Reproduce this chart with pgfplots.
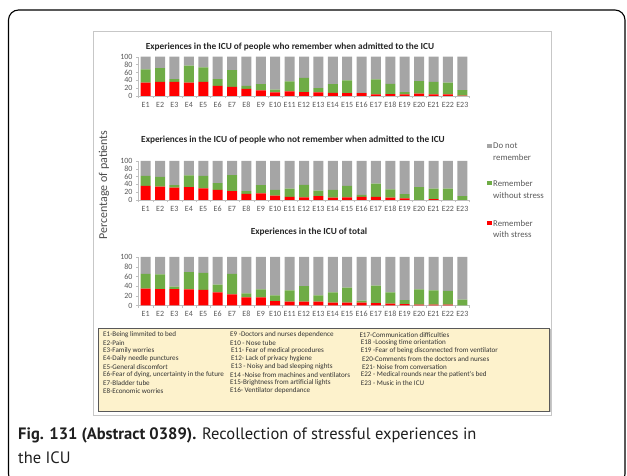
\documentclass[border=0pt]{standalone}
\usepackage{pgfplots}
\pgfplotsset{compat=1.18}
\usepackage{pgfplotstable}
\usepackage{fontspec}
\setmainfont{Carlito}
\newfontfamily\capfont{PT Sans}
\definecolor{cred}{HTML}{FF0000}
\definecolor{cgreen}{HTML}{6FAC46}
\definecolor{cgray}{HTML}{A5A5A5}
\definecolor{txtgray}{HTML}{595959}
\definecolor{axgray}{HTML}{BFBFBF}
\definecolor{boxfill}{HTML}{FDF2CC}
\definecolor{titlecol}{HTML}{262626}

\pgfplotstableread{
x red green gray
1 34 34 32
2 36 35 29
3 36 7 57
4 34 43 23
5 36 37 27
6 26 17 57
7 23 43 34
8 18 8 74
9 14 16 70
10 9 7 84
11 12 25 63
12 10 36 54
13 9 11 80
14 8 22 70
15 7 33 60
16 7 1 92
17 4 38 58
18 5 26 69
19 4 6 90
20 6 32 62
21 4 32 64
22 4 30 66
23 1 14 85
}\remtable

\pgfplotstableread{
x red green gray
1 36 26 38
2 34 25 41
3 32 6 62
4 33 30 37
5 30 32 38
6 26 17 57
7 23 41 36
8 16 7 77
9 17 21 62
10 11 15 74
11 8 21 71
12 7 32 61
13 10 14 76
14 6 20 74
15 7 29 64
16 8 5 87
17 8 34 58
18 6 21 73
19 4 11 85
20 0 33 67
21 2 27 71
22 0 29 71
23 0 10 90
}\notremtable

\pgfplotstableread{
x red green gray
1 35 30 35
2 34 30 36
3 34 5 61
4 33 36 31
5 32 35 33
6 27 16 57
7 23 42 35
8 17 8 75
9 17 16 67
10 9 12 79
11 8 23 69
12 8 32 60
13 8 13 79
14 6 21 73
15 6 31 63
16 6 4 90
17 5 36 59
18 4 23 73
19 3 8 89
20 2 31 67
21 2 29 69
22 2 28 70
23 0 12 88
}\totaltable

\pgfplotsset{panel/.style={
  scale only axis, width=331pt,
  xmin=0.5, xmax=23.5, ymin=0, ymax=100,
  ybar stacked, bar width=10pt,
  axis x line*=bottom, axis y line*=left,
  axis line style={axgray, line width=0.5pt},
  xtick={1,...,23},
  xticklabels={E1,E2,E3,E4,E5,E6,E7,E8,E9,E10,E11,E12,E13,E14,E15,E16,E17,E18,E19,E20,E21,E22,E23},
  major x tick style={draw=none},
  minor xtick={0.5,1.5,...,23.5},
  minor x tick style={axgray},
  minor tick length=2.5pt,
  ytick={0,20,...,100},
  y tick style={axgray},
  major tick length=2.5pt,
  tick align=outside,
  tick label style={font=\fontsize{8}{9}\selectfont, text=txtgray},
  /pgf/number format/assume math mode=true,
  clip=false,
}}

\begin{document}
\begin{tikzpicture}[x=1pt,y=1pt]
\clip (0,0) rectangle (627,476);
\path[use as bounding box] (0,0) rectangle (627,476);
% outer rounded frame
\draw[line width=1.1pt, rounded corners=10pt] (8.5,466) rectangle (625,-8);
% inner chart frame
\draw[black!22, line width=0.6pt] (93,445) rectangle (551,61);

% panel 1
\begin{axis}[panel, at={(138.5pt,380pt)}, anchor=south west, height=39.3pt]
\addplot[fill=cred, draw=none] table[x=x,y=red]{\remtable};
\addplot[fill=cgreen, draw=none] table[x=x,y=green]{\remtable};
\addplot[fill=cgray, draw=none] table[x=x,y=gray]{\remtable};
\end{axis}
% panel 2
\begin{axis}[panel, at={(138.5pt,276pt)}, anchor=south west, height=39pt]
\addplot[fill=cred, draw=none] table[x=x,y=red]{\notremtable};
\addplot[fill=cgreen, draw=none] table[x=x,y=green]{\notremtable};
\addplot[fill=cgray, draw=none] table[x=x,y=gray]{\notremtable};
\end{axis}
% panel 3
\begin{axis}[panel, at={(138.5pt,170.5pt)}, anchor=south west, height=48.5pt]
\addplot[fill=cred, draw=none] table[x=x,y=red]{\totaltable};
\addplot[fill=cgreen, draw=none] table[x=x,y=green]{\totaltable};
\addplot[fill=cgray, draw=none] table[x=x,y=gray]{\totaltable};
\end{axis}

% titles
\node[font=\bfseries\fontsize{9.3}{10}\selectfont, text=titlecol] at (290,429) {Experiences in the ICU of people who remember when admitted to the ICU};
\node[font=\bfseries\fontsize{9.3}{10}\selectfont, text=titlecol] at (293,336) {Experiences in the ICU of people who not remember when admitted to the ICU};
\node[font=\bfseries\fontsize{9.3}{10}\selectfont, text=titlecol] at (309,244) {Experiences in the ICU of total};

% y label
\node[rotate=90, font=\fontsize{12}{14}\selectfont, text=txtgray!85!black] at (104,291) {Percentage of patients};

% legend
\begin{scope}[every node/.style={anchor=west, inner sep=0pt, font=\fontsize{8.8}{10}\selectfont, text=txtgray}]
\fill[cgray] (487,327.5) rectangle (491.5,332);
\node at (493,330) {Do not};
\node at (493,319) {remember};
\fill[cgreen] (487,290.5) rectangle (491.5,295);
\node at (493,293) {Remember};
\node at (493,281) {without stress};
\fill[cred] (487,250.5) rectangle (491.5,255);
\node at (493,253) {Remember};
\node at (493,241.5) {with stress};
\end{scope}

% description box
\fill[black!25] (99.5,146.5) rectangle (550.5,63.5);
\draw[draw=black!65, fill=boxfill, line width=0.8pt] (98,148) rectangle (549,65);
\begin{scope}[every node/.style={anchor=west, inner sep=0pt, font=\fontsize{7.1}{7.5}\selectfont, text=black!80}]
\node at (103,141) {E1-Being limmited to bed};
\node at (103,133) {E2-Pain};
\node at (103,125) {E3-Family worries};
\node at (103,117) {E4-Daily needle punctures};
\node at (103,109) {E5-General discomfort};
\node at (103,101) {E6-Fear of dying, uncertainty in the future};
\node at (103,93) {E7-Bladder tube};
\node at (103,85) {E8-Economic worries};
\node at (230,141) {E9 -Doctors and nurses dependence};
\node at (230,133) {E10 - Nose tube};
\node at (231,125) {E11- Fear of medical procedures};
\node at (231,117) {E12- Lack of privacy hygiene};
\node at (231,109) {E13 - Noisy and bad sleeping nights};
\node at (230,101) {E14 -Noise from machines and ventilators};
\node at (230,93) {E15-Brightness from artificial lights};
\node at (230,85) {E16- Ventilator dependance};
\node at (359.3,141) {E17-Communication difficulties};
\node at (360.7,133) {E18 -Loosing time orientation};
\node at (360.7,125) {E19 -Fear of being disconnected from ventilator};
\node at (362,117) {E20-Comments from the doctors and nurses};
\node at (362,109) {E21- Noise from conversation};
\node at (360.7,101) {E22 - Medical rounds near the patient's bed};
\node at (360.7,93) {E23 - Music in the ICU};
\end{scope}

% caption
\node[anchor=base west, inner sep=0pt, font=\capfont\fontsize{16.5}{19}\selectfont, text=black!88] at (18,36) {\textbf{Fig. 131 (Abstract 0389).} Recollection of stressful experiences in};
\node[anchor=base west, inner sep=0pt, font=\capfont\fontsize{16.5}{19}\selectfont, text=black!88] at (18,12) {the ICU};
\end{tikzpicture}
\end{document}
